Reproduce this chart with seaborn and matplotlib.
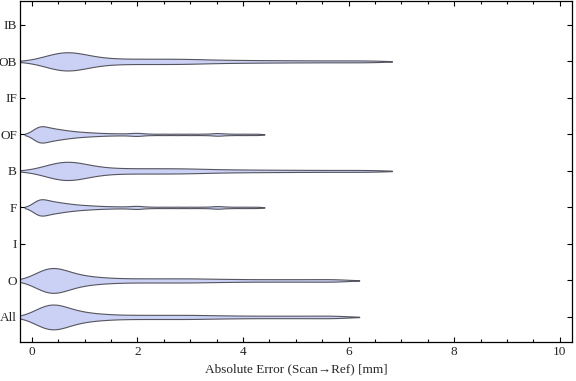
import pandas as pd
import seaborn as sns
import matplotlib.pyplot as plt
from matplotlib.ticker import MultipleLocator

# categories, top to bottom
groups = ["IB", "OB", "IF", "OF", "B", "F", "I", "O", "All"]

# absolute errors in mm, estimated from the violin shapes
ob_err = [0.2, 0.3, 0.38, 0.45, 0.5, 0.55, 0.6, 0.63, 0.66, 0.7, 0.74, 0.78,
          0.83, 0.9, 0.97, 1.05, 1.15, 1.3, 1.45, 1.65, 1.85,
          2.05, 2.25, 2.45, 2.65, 2.85, 3.05, 3.3, 3.6, 3.95, 4.35, 4.8, 5.3, 5.85, 6.4]
b_err = list(ob_err)
of_err = [0.02, 0.05, 0.08, 0.1, 0.12, 0.13, 0.14, 0.15, 0.17, 0.19, 0.21,
          0.23, 0.25, 0.27, 0.3, 0.32, 0.35, 0.37, 0.4, 0.43, 0.46, 0.49,
          0.52, 0.55, 0.59, 0.63, 0.67, 0.71, 0.76, 0.81, 0.87, 0.93, 1.0, 1.08,
          1.16, 1.26, 1.38, 1.52, 1.68, 1.85, 2.0, 2.02, 2.25, 2.5, 2.75, 3.0,
          3.25, 3.5, 3.52, 3.75, 4.0, 4.25]
f_err = list(of_err)
o_err = [0.08, 0.12, 0.15, 0.18, 0.2, 0.22, 0.24, 0.26, 0.28, 0.3, 0.31,
         0.33, 0.34, 0.36, 0.37, 0.39, 0.4, 0.42, 0.44, 0.46, 0.48, 0.5,
         0.52, 0.55, 0.58, 0.61, 0.64, 0.68, 0.72, 0.76, 0.8, 0.86, 0.92,
         0.98, 1.05, 1.12, 1.2, 1.3, 1.4, 1.52,
         1.65, 1.8, 1.95, 2.1, 2.25, 2.4, 2.55, 2.7, 2.85, 3.0, 3.15, 3.3,
         3.5, 3.7, 3.9, 4.15, 4.4, 4.65, 4.9, 5.15, 5.4, 5.65, 5.85]
all_err = list(o_err)

data = {"OB": ob_err, "OF": of_err, "B": b_err, "F": f_err, "O": o_err, "All": all_err}
rows = [(g, v) for g, vals in data.items() for v in vals]
df = pd.DataFrame(rows, columns=["group", "error"])

# violin look per group
widths = {"OB": 0.5, "B": 0.5, "OF": 0.45, "F": 0.45, "O": 0.68, "All": 0.68}
bws = {"OB": 0.3, "B": 0.3, "OF": 0.11, "F": 0.11, "O": 0.25, "All": 0.25}

sns.set_style("ticks")
plt.rcParams["font.family"] = ["Liberation Serif", "DejaVu Serif"]

fig = plt.figure(figsize=(5.76, 3.81), dpi=100)
ax = fig.add_axes([0.0355, 0.103, 0.9575, 0.895])

for g in data:
    sub = df[df["group"] == g]
    sns.violinplot(data=sub, x="error", y="group", order=groups, orient="h", ax=ax,
                   width=widths[g], density_norm="width",
                   bw_method=bws[g] / sub["error"].std(), cut=1.4, inner=None,
                   color="#cbd0f5", linecolor="#55555f", linewidth=0.8, saturation=1)

ax.set_xlim(-0.215, 10.23)
ax.set_ylim(8.68, -0.66)
ax.xaxis.set_major_locator(MultipleLocator(2))
ax.xaxis.set_minor_locator(MultipleLocator(0.5))
ax.tick_params(which="both", direction="in", top=True, right=True, labelsize=9.5,
               color="black", width=0.8)
ax.tick_params(which="major", length=3.5)
ax.tick_params(which="minor", length=2)
ax.tick_params(axis="y", pad=2.5)
ax.tick_params(axis="x", pad=3)
for s in ax.spines.values():
    s.set_color("black")
    s.set_linewidth(0.9)

ax.set_xlabel("Absolute Error (Scan\u2192Ref) [mm]", fontsize=9.5, labelpad=3.5)
ax.set_ylabel("")

fig.savefig("out.png", dpi=100)
